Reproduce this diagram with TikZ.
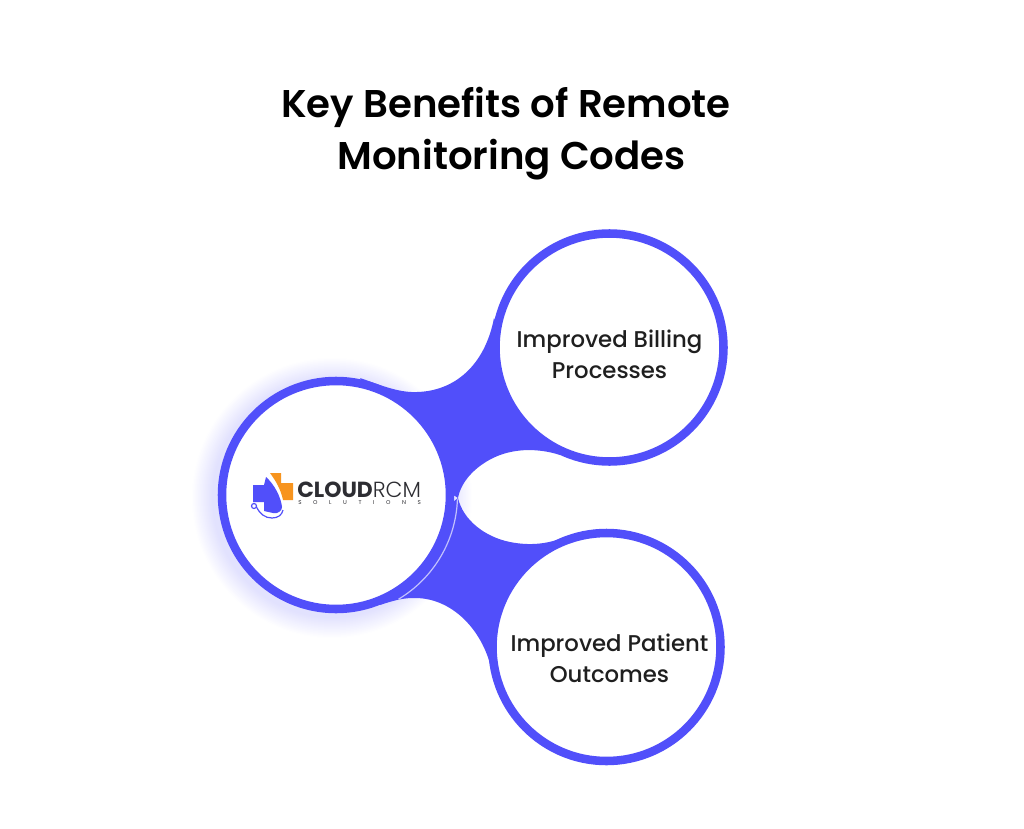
\documentclass[tikz,border=0pt]{standalone}
\usepackage{fontspec}
\setmainfont{Poppins}
\newfontfamily\thinfont{Poppins Light}
\newfontfamily\midfont{Poppins Medium}
\newfontfamily\headfont{Poppins SemiBold}
\usepackage{xcolor}
\definecolor{ringblue}{RGB}{81,79,250}
\definecolor{logoorange}{RGB}{247,148,30}
\definecolor{logoink}{RGB}{45,45,50}
\tikzset{
  ring/.style={circle,draw=ringblue,fill=white,line width=6.4pt,minimum size=171pt,inner sep=0pt},
  headline/.style={inner sep=0.75pt,font=\fontsize{29}{34}\headfont,text=black},
  caption/.style={inner sep=0.75pt,align=center,font=\fontsize{17.1}{23.2}\midfont,text=black!88}
}

\begin{document}
\begin{tikzpicture}[x=0.75pt,y=0.75pt,yscale=-1,xscale=1]
\useasboundingbox (0,0) rectangle (1024,828);

%Glow round the hub
\foreach \glowr in {140,139,...,120}
  \fill [ringblue,opacity=0.009] (332,498) circle (\glowr);

%Shape: upper web
\fill [ringblue] (360,378) .. controls (378,384) and (398,393) .. (417,392) .. controls (455,391) and (485,365) .. (494,318)
  -- (560,455) .. controls (535,447) and (510,449) .. (491,459) .. controls (474,468) and (461,482) .. (458,498)
  -- (430,480) -- cycle ;
%Shape: lower web
\fill [ringblue] (458,498) .. controls (463,520) and (485,537) .. (510,542) .. controls (530,546) and (548,544) .. (565,537)
  -- (493,678) .. controls (487,635) and (455,598) .. (415,598) .. controls (405,598) and (398,599) .. (380,605)
  -- (430,520) -- cycle ;

%Circles
\node (hub) [ring] at (336,495) {};
\node (billing) [ring] at (609.5,347.5) {};
\node (patient) [ring] at (606.5,647) {};

%Light seam on the lower web
\draw [white,opacity=0.65,line width=0.9pt] (hub.center) ++(2:121.5) arc [start angle=2,end angle=59,radius=121.5] ;

%Shape: orange cross
\fill [logoorange] (270,473) -- (281,473) -- (281,483) -- (293,483) -- (293,500) -- (283,500) .. controls (281,490) and (276,481) .. (270,473) -- cycle ;
%Shape: blue cross
\fill [ringblue] (266,477) .. controls (274,484) and (281,497) .. (282,507) .. controls (282,511) and (278,514) .. (273,513) -- (264,511) -- (264,502) -- (253,502) -- (253,485) -- (264,485) -- cycle ;
%Stethoscope
\draw [ringblue,line width=0.9pt] (254,506) circle (2.5) ;
\draw [ringblue,line width=0.9pt] (256.5,507) .. controls (260,514) and (265,518) .. (272,518) .. controls (278,518) and (282,515) .. (283,510) ;

% Text Node
\node (titleone) [headline] at (506,107) {Key Benefits of Remote};
% Text Node
\node (titletwo) [headline] at (511.5,160) {Monitoring Codes};
% Text Node
\node (billingtext) [caption] at (609.5,354) {Improved Billing\\Processes};
% Text Node
\node (patienttext) [caption] at (609.5,658.5) {Improved Patient\\Outcomes};
% Text Node
\node (logoname) [anchor=west,inner sep=0pt,text=logoink,font=\fontsize{16.4}{18}\selectfont] at (297,490) {\textbf{CLOUD}{\thinfont RCM}};
% Text Node
\node (logosub) [anchor=west,inner sep=0pt,text=logoink,font=\fontsize{4.2}{6}\selectfont] at (298,503) {\makebox[92pt][s]{S\hfil O\hfil L\hfil U\hfil T\hfil I\hfil O\hfil N\hfil S}};

\end{tikzpicture}
\end{document}
